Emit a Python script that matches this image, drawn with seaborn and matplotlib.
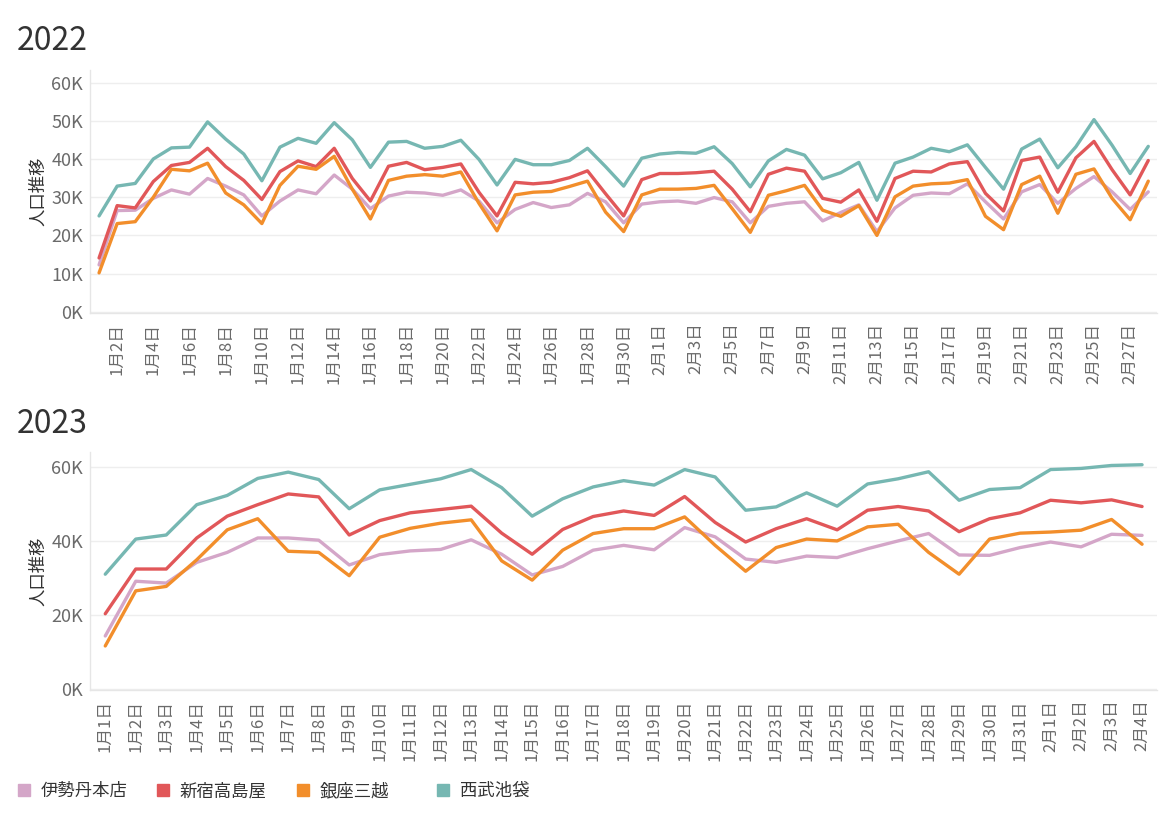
import numpy as np
import pandas as pd
import matplotlib
matplotlib.use("Agg")
import matplotlib.pyplot as plt
import seaborn as sns
from matplotlib.patches import Patch
from matplotlib.ticker import FuncFormatter

sns.set_style("white")
plt.rcParams["font.family"] = ["Noto Sans CJK JP", "DejaVu Sans"]

stores = ["伊勢丹本店", "新宿高島屋", "銀座三越", "西武池袋"]
colors = ["#D4A6C8", "#E15759", "#F28E2B", "#76B7B2"]

# 2022 (1/1 - 2/28), values in thousands
isetan_2022 = [12.3, 26.5, 26.6, 29.7, 31.9, 30.8, 34.9, 32.9, 30.6, 25.1, 29.0, 31.9, 30.9, 35.8, 32.1, 27.0, 30.3,
               31.3, 31.1, 30.5, 31.9, 29.0, 23.3, 26.8, 28.6, 27.3, 28.0, 31.0, 28.8, 23.3, 28.2, 28.8, 29.0, 28.4, 29.9, 28.8, 23.3, 27.6,
               28.4, 28.8, 23.8, 26.0, 28.0, 21.0, 27.2, 30.5, 31.1, 30.9, 33.5, 28.8, 24.3, 31.4, 33.3, 28.4, 32.3, 35.4, 31.4, 26.8, 31.4]
takashimaya_2022 = [14.1, 27.8, 27.2, 34.1, 38.3, 39.1, 42.8, 38.0, 34.4, 29.4, 36.7, 39.5, 38.0, 42.8, 34.9, 29.0, 38.1,
                    39.1, 37.2, 37.8, 38.7, 31.3, 25.1, 33.9, 33.5, 33.9, 35.1, 36.9, 30.9, 25.1, 34.6, 36.2, 36.2, 36.4, 36.8, 32.1, 26.2, 36.0,
                    37.6, 36.8, 29.7, 28.7, 31.9, 23.7, 34.9, 36.8, 36.6, 38.7, 39.3, 31.0, 26.4, 39.6, 40.5, 31.3, 40.3, 44.6, 37.2, 30.6, 39.6]
mitsukoshi_2022 = [10.2, 23.1, 23.6, 30.0, 37.3, 36.9, 38.9, 31.1, 28.0, 23.1, 33.1, 38.1, 37.3, 40.7, 32.1, 24.3, 34.4,
                   35.5, 35.9, 35.5, 36.6, 28.4, 21.2, 30.6, 31.3, 31.5, 32.8, 34.2, 26.1, 21.0, 30.6, 32.1, 32.1, 32.3, 33.1, 27.0, 20.8, 30.5,
                   31.7, 33.1, 26.6, 25.0, 27.8, 20.0, 30.1, 32.9, 33.5, 33.7, 34.6, 25.0, 21.5, 33.3, 35.5, 25.8, 36.0, 37.4, 29.7, 24.1, 34.2]
seibu_2022 = [25.1, 32.9, 33.6, 40.0, 42.9, 43.1, 49.7, 45.2, 41.3, 34.3, 43.1, 45.4, 44.1, 49.5, 45.0, 37.8, 44.4,
              44.6, 42.8, 43.3, 44.9, 39.9, 33.2, 39.9, 38.5, 38.5, 39.6, 42.8, 38.0, 32.9, 40.2, 41.3, 41.7, 41.5, 43.2, 38.8, 32.7, 39.5,
              42.5, 41.0, 34.8, 36.4, 39.1, 29.2, 38.9, 40.5, 42.8, 41.9, 43.7, 37.8, 32.1, 42.6, 45.2, 37.7, 43.2, 50.3, 43.6, 36.2, 43.3]

# 2023 (1/1 - 2/4), values in thousands
isetan_2023 = [14.3, 29.1, 28.6, 34.2, 36.9, 40.8, 40.8, 40.2, 33.5, 36.3,
               37.3, 37.7, 40.3, 36.4, 30.8, 33.1, 37.5, 38.8, 37.6, 43.6, 41.1, 35.1,
               34.2, 35.9, 35.5, 37.9, 40.0, 42.0, 36.2, 36.1, 38.2, 39.7, 38.4, 41.8, 41.5]
takashimaya_2023 = [20.3, 32.4, 32.4, 40.8, 46.7, 49.8, 52.7, 51.9, 41.6, 45.5,
                    47.6, 48.5, 49.4, 42.1, 36.4, 43.1, 46.6, 48.1, 46.9, 52.0, 45.0, 39.7,
                    43.3, 46.0, 43.0, 48.3, 49.3, 48.1, 42.5, 46.0, 47.6, 51.0, 50.3, 51.1, 49.3]
mitsukoshi_2023 = [11.6, 26.5, 27.7, 34.9, 43.0, 46.0, 37.2, 36.9, 30.6, 41.0,
                   43.4, 44.8, 45.7, 34.6, 29.4, 37.5, 42.0, 43.3, 43.3, 46.5, 38.8, 31.8,
                   38.2, 40.5, 40.0, 43.8, 44.5, 36.9, 31.0, 40.5, 42.1, 42.4, 42.9, 45.8, 39.1]
seibu_2023 = [31.0, 40.5, 41.6, 49.8, 52.3, 56.9, 58.6, 56.6, 48.7, 53.8,
              55.3, 56.8, 59.3, 54.4, 46.7, 51.4, 54.6, 56.3, 55.1, 59.3, 57.3, 48.3,
              49.2, 53.0, 49.4, 55.4, 56.8, 58.7, 51.0, 53.9, 54.4, 59.3, 59.6, 60.4, 60.6]

dates_2022 = pd.date_range("2022-01-01", "2022-02-28")
dates_2023 = pd.date_range("2023-01-01", "2023-02-04")
labels_2022 = [f"{d.month}月{d.day}日" for d in dates_2022]
labels_2023 = [f"{d.month}月{d.day}日" for d in dates_2023]


def to_long(series, n):
    rows = []
    for store, vals in zip(stores, series):
        for i, v in enumerate(vals[:n]):
            rows.append({"day": i, "store": store, "value": v * 1000})
    return pd.DataFrame(rows)


df22 = to_long([isetan_2022, takashimaya_2022, mitsukoshi_2022, seibu_2022], len(labels_2022))
df23 = to_long([isetan_2023, takashimaya_2023, mitsukoshi_2023, seibu_2023], len(labels_2023))
palette = dict(zip(stores, colors))

fig = plt.figure(figsize=(11.69, 8.27), dpi=100)
ax1 = fig.add_axes([0.077, 0.6215, 0.913, 0.2935])
ax2 = fig.add_axes([0.077, 0.1657, 0.913, 0.288])

sns.lineplot(data=df22, x="day", y="value", hue="store", hue_order=stores,
             palette=palette, linewidth=2.4, legend=False, ax=ax1)
sns.lineplot(data=df23, x="day", y="value", hue="store", hue_order=stores,
             palette=palette, linewidth=2.4, legend=False, ax=ax2)


def style(ax, labels, start, step, ymax, yticks):
    n = len(labels)
    ax.set_xlim(-0.5, n - 0.5)
    ax.set_ylim(-300, ymax)
    ax.set_yticks(yticks)
    ax.yaxis.set_major_formatter(FuncFormatter(lambda v, _: f"{int(round(v / 1000))}K"))
    idx = list(range(start, n, step))
    ax.set_xticks(idx)
    ax.set_xticklabels([labels[i] for i in idx], rotation=90)
    ax.set_xticks(np.arange(-0.5, n, 1), minor=True)
    ax.tick_params(axis="x", which="major", length=0, pad=7, labelsize=12, labelcolor="#6a6a6a")
    ax.tick_params(axis="x", which="minor", length=5, color="#e2e2e2", width=1)
    ax.tick_params(axis="y", length=0, labelsize=13, labelcolor="#6a6a6a", pad=5)
    ax.grid(axis="y", color="#eeeeee", linewidth=1)
    ax.grid(axis="x", visible=False)
    for s in ["top", "right"]:
        ax.spines[s].set_visible(False)
    for s in ["left", "bottom"]:
        ax.spines[s].set_color("#e6e6e6")
        ax.spines[s].set_linewidth(1)
    ax.set_xlabel("")
    ax.set_ylabel("人口推移", fontsize=12.5, color="#333333", labelpad=3)


style(ax1, labels_2022, 1, 2, 63200, [0, 10000, 20000, 30000, 40000, 50000, 60000])
style(ax2, labels_2023, 0, 1, 64100, [0, 20000, 40000, 60000])

fig.text(0.014, 1 - 41 / 827, "2022", fontsize=23, va="center", ha="left", color="#333333")
fig.text(0.014, 1 - 424 / 827, "2023", fontsize=23, va="center", ha="left", color="#333333")

# legend: fixed-width slots like the dashboard legend
legend_x = [18, 157, 297, 437]
for s, c, x in zip(stores, colors, legend_x):
    fig.legend(handles=[Patch(facecolor=c, edgecolor=c, label=s)], loc="center left",
               bbox_to_anchor=(x / 1169, 1 - 791 / 827), frameon=False, fontsize=12.5,
               handlelength=0.7, handleheight=0.7, handletextpad=0.6,
               borderpad=0, borderaxespad=0, labelcolor="#333333")

fig.savefig("out.png", dpi=100)
